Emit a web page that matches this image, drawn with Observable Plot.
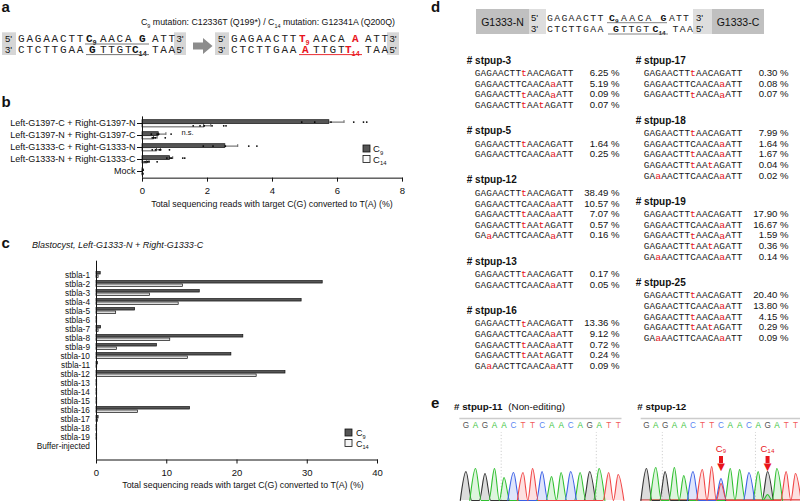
<!DOCTYPE html>
<html><head><meta charset="utf-8">
<script src="https://cdn.jsdelivr.net/npm/d3@7"></script>
<script src="https://cdn.jsdelivr.net/npm/@observablehq/plot@0.6"></script>
<style>
html,body{margin:0;padding:0;background:#fff;}
#fig{position:relative;width:800px;height:501px;overflow:hidden;background:#fff;font-family:'Liberation Sans',Arial,sans-serif;}
#fig > div{position:absolute;}
#fig svg{display:block;overflow:visible;}
</style></head><body><div id="fig"></div><script>
// ---------------- DATA ----------------
// panel b
const bCategories = ["Left-G1397-C + Right-G1397-N","Left-G1397-N + Right-G1397-C","Left-G1333-C + Right-G1333-N","Left-G1333-N + Right-G1333-C","Mock"];
const bC9 = [5.75, 0.50, 2.55, 0.85, 0.02];
const bC14 = [1.90, 0.35, 0.45, 0.15, 0.01];
const bC9Err = [0.45, 0.22, 0.38, 0.08, 0];
const bC14Err = [0.20, 0.10, 0.10, 0.05, 0];
const bC9Reps = [[4.9,5.3,5.8,6.5,6.8,6.9],[0.27,0.45,0.5,0.88],[1.87,2.17,2.55,3.27,3.52],[0.75,0.85,0.9,1.24,1.3],[0,0.02]];
const bC14Reps = [[1.56,1.77,1.9,2.14,2.5,2.57],[0.3,0.35,0.4,0.7],[0.3,0.4,0.52,0.56,0.83],[0.05,0.1,0.15,0.2,0.45],[0,0.01]];
const bTicks = [0,2,4,6,8];
// panel c
const cCategories = ["stbla-1","stbla-2","stbla-3","stbla-4","stbla-5","stbla-6","stbla-7","stbla-8","stbla-9","stbla-10","stbla-11","stbla-12","stbla-13","stbla-14","stbla-15","stbla-16","stbla-17","stbla-18","stbla-19","Buffer-injected"];
const cC9  = [0.6,32.2,14.7,29.2,5.5,0.1,0.65,20.9,8.6,19.2,0.2,26.9,0.1,0.1,0.1,13.3,0.3,0.1,0.1,0];
const cC14 = [0.3,12.3,7.6,11.7,2.8,0.1,0.3,10.5,2.9,13.0,0.1,22.8,0.1,0.1,0.1,5.9,0.2,0.1,0.1,0];
const cTicks = [0,10,20,30,40];
// panel d
const dNames = ["stpup-3","stpup-5","stpup-12","stpup-13","stpup-16","stpup-17","stpup-18","stpup-19","stpup-25"];
const dSeqs = [
  ["GAGAACTTtAACAGATT","GAGAACTTCAACAaATT","GAGAACTTtAACAaATT","GAGAACTTtAAtAGATT"],
  ["GAGAACTTtAACAGATT","GAGAACTTCAACAaATT"],
  ["GAGAACTTtAACAGATT","GAGAACTTCAACAaATT","GAGAACTTtAACAaATT","GAGAACTTtAAtAGATT","GAaAACTTCAACAaATT"],
  ["GAGAACTTtAACAGATT","GAGAACTTCAACAaATT"],
  ["GAGAACTTtAACAGATT","GAGAACTTCAACAaATT","GAGAACTTtAACAaATT","GAGAACTTtAAtAGATT","GAaAACTTCAACAaATT"],
  ["GAGAACTTtAACAGATT","GAGAACTTCAACAaATT","GAGAACTTtAACAaATT"],
  ["GAGAACTTtAACAGATT","GAGAACTTCAACAaATT","GAGAACTTtAACAaATT","GAGAACTTtAAtAGATT","GAaAACTTCAACAaATT"],
  ["GAGAACTTtAACAGATT","GAGAACTTCAACAaATT","GAGAACTTtAACAaATT","GAGAACTTtAAtAGATT","GAaAACTTCAACAaATT"],
  ["GAGAACTTtAACAGATT","GAGAACTTCAACAaATT","GAGAACTTtAACAaATT","GAGAACTTtAAtAGATT","GAaAACTTCAACAaATT"]
];
const dPcts = [
  [6.25,5.19,0.09,0.07],[1.64,0.25],[38.49,10.57,7.07,0.57,0.16],[0.17,0.05],[13.36,9.12,0.72,0.24,0.09],
  [0.30,0.08,0.07],[7.99,1.64,1.67,0.04,0.02],[17.90,16.67,1.59,0.36,0.14],[20.40,13.80,4.15,0.29,0.09]
];
const dLeftColumn = [0,1,2,3,4];
const dRightColumn = [5,6,7,8];
// panel e
const eBases = "GAGAACTTCAACAGATT".split("");
const eLeftHeights  = [29,32,27,32,23,28,28,32,29,24,28,29,28,29,32,28,26];
const eRightHeights = [32,33,29,33,25,29,31,34,22,32,31,28,29,29,32,29,27];
const eRightSecondary = [{i:8,b:"T",h:17},{i:13,b:"A",h:6}];
const eLeftGuides = [4,14];
const eRightGuides = [2,12];
const eRightArrows = [{i:8,label:"C₉"},{i:13,label:"C₁₄"}];

// ---------------- HELPERS ----------------
const SANS = "'Liberation Sans', Arial, Helvetica, sans-serif";
const MONO = "'Liberation Mono', 'Courier New', monospace";
const RED = "#e8141b";
const fig = document.getElementById("fig");
function put(node, x, y){ const d=document.createElement("div"); d.style.left=x+"px"; d.style.top=y+"px"; d.appendChild(node); fig.appendChild(d); }
const baseStyle = {fontFamily:SANS, background:"transparent", color:"#111", overflow:"visible"};

// ---------------- PANEL B ----------------
{
  const rows = bCategories.map((cat,i)=>({cat,c9:bC9[i],c14:bC14[i],hi9:bC9[i]+bC9Err[i],hi14:bC14[i]+bC14Err[i]}));
  const p9 = bCategories.flatMap((cat,i)=>bC9Reps[i].map(v=>({cat,v})));
  const p14 = bCategories.flatMap((cat,i)=>bC14Reps[i].map(v=>({cat,v})));
  const step=12.25, top=6.4, H=105;
  const pl = Plot.plot({
    width:410, height:H, marginLeft:142, marginRight:8, marginTop:top, marginBottom:H-top-step*bCategories.length,
    x:{domain:[0,8]}, y:{domain:bCategories, padding:0},
    style:baseStyle,
    marks:[
      Plot.barX(rows,{y:"cat",x:"c9",fill:"#555555",stroke:"#111",strokeWidth:0.7,insetTop:2.7,insetBottom:5.5}),
      Plot.barX(rows,{y:"cat",x:"c14",fill:"#fafafa",stroke:"#111",strokeWidth:0.7,insetTop:6.7,insetBottom:2.1}),
      Plot.ruleY(rows,{y:"cat",x1:"c9",x2:"hi9",dy:-1.4,stroke:"#111",strokeWidth:0.7}),
      Plot.ruleY(rows,{y:"cat",x1:"c14",x2:"hi14",dy:2.3,stroke:"#111",strokeWidth:0.7}),
      Plot.tickX(rows,{y:"cat",x:"hi9",insetTop:3.2,insetBottom:6.05,stroke:"#111",strokeWidth:0.7}),
      Plot.tickX(rows,{y:"cat",x:"hi14",insetTop:6.9,insetBottom:2.35,stroke:"#111",strokeWidth:0.7}),
      Plot.dot(p9,{x:"v",y:"cat",dy:-1.4,r:0.9,fill:"#000"}),
      Plot.dot(p14,{x:"v",y:"cat",dy:2.3,r:0.9,fill:"#000"}),
      Plot.text(["n.s."],{x:()=>1.2,y:()=>bCategories[1],dy:-2.5,text:d=>d,textAnchor:"start",fontSize:7.5}),
      Plot.frame({anchor:"bottom",stroke:"#111"}),
      Plot.ruleX([0],{stroke:"#111"}),
      Plot.axisX({ticks:bTicks,tickSize:4,fontSize:9.5,label:null}),
      Plot.axisY({tickSize:5,tickPadding:2,fontSize:9,label:null})
    ]
  });
  put(pl,0,110);
}

// ---------------- PANEL C ----------------
{
  const rows = cCategories.map((cat,i)=>({cat,c9:cC9[i],c14:cC14[i]}));
  const step=9.94, top=5.7, H=246;
  const pl = Plot.plot({
    width:400, height:H, marginLeft:96, marginRight:23, marginTop:top, marginBottom:H-top-step*cCategories.length,
    x:{domain:[0,40]}, y:{domain:cCategories, padding:0},
    style:baseStyle,
    marks:[
      Plot.barX(rows,{y:"cat",x:"c9",fill:"#555555",stroke:"#111",strokeWidth:0.7,insetTop:1.6,insetBottom:4.97}),
      Plot.barX(rows,{y:"cat",x:"c14",fill:"#dcdcdc",stroke:"#111",strokeWidth:0.7,insetTop:4.97,insetBottom:1.6}),
      Plot.frame({anchor:"bottom",stroke:"#111"}),
      Plot.ruleX([0],{stroke:"#111"}),
      Plot.axisX({ticks:cTicks,tickSize:4,fontSize:9.5,label:null}),
      Plot.axisY({tickSize:0,tickPadding:6.5,fontSize:8.3,label:null})
    ]
  });
  put(pl,0,255);
}

// ---------------- PANEL D ----------------
function dColumn(groups){
  let u=0; const heads=[], chars=[], pcts=[];
  groups.forEach((g,k)=>{
    if(k>0) u+=2.45;
    heads.push({u,t:"# "+dNames[g]});
    dSeqs[g].forEach((s,r)=>{
      u += r===0 ? 1.2 : 1;
      s.split("").forEach((ch,ci)=>chars.push({u,ci,ch,red:ch!==ch.toUpperCase()}));
      pcts.push({u,t:dPcts[g][r].toFixed(2)+" %"});
    });
  });
  const unit=10.6, pitch=5.82, H=320;
  return Plot.plot({
    width:170, height:H, marginTop:10, marginLeft:22, marginRight:6, marginBottom:H-10-28.8*unit,
    x:{domain:[0,24.4], range:[22,22+24.4*pitch], axis:null},
    y:{domain:[0,28.8], range:[10,10+28.8*unit], axis:null},
    style:baseStyle,
    marks:[
      Plot.text(heads,{x:()=>-1.85,y:"u",text:"t",textAnchor:"start",fontWeight:"bold",fontSize:10,fill:"#111"}),
      Plot.text(chars.filter(d=>!d.red),{x:"ci",y:"u",text:"ch",fontFamily:MONO,fontSize:9.4,fill:"#1a1a1a"}),
      Plot.text(chars.filter(d=>d.red),{x:"ci",y:"u",text:"ch",fontFamily:MONO,fontSize:9.8,fill:RED}),
      Plot.text(pcts,{x:()=>24.4,y:"u",text:"t",textAnchor:"end",fontSize:9.6,fill:"#111"})
    ]
  });
}
put(dColumn(dLeftColumn),455,50);
put(dColumn(dRightColumn),624,50);

// ---------------- PANEL E ----------------
const baseColor = {G:"#333333",A:"#2fbf2f",C:"#3a5fe6",T:"#f04545"};
const baseFill  = {G:"#9a9a9a",A:"#2fbf2f",C:"#3a5fe6",T:"#f04545"};
const letterColor = {G:"#555555",A:"#3cc43c",C:"#5a86f2",T:"#f25a5a"};
function chrom(heights, extra, guides, arrows, cfg){
  const peaks = eBases.map((b,i)=>({i,b,h:heights[i]})).concat(extra);
  const marks = [
    Plot.ruleY([82],{x1:()=>cfg.l0,x2:()=>cfg.l1,stroke:"#cccccc",strokeWidth:1.5}),
    Plot.ruleX(guides,{x:d=>d-0.3,y1:()=>0,y2:()=>68,stroke:"#c4c4c4",strokeDasharray:"1.2,2",strokeWidth:0.8})
  ];
  for(const ch of "GACT"){
    marks.push(Plot.text(eBases.map((b,i)=>({b,i})).filter(d=>d.b===ch),{x:"i",y:()=>75,text:"b",fill:letterColor[ch],fontSize:8.2}));
  }
  if(cfg.redBase) marks.push(Plot.ruleY([0.7],{x1:()=>-0.6,x2:()=>17.5,stroke:"#e03a3a",strokeWidth:1.2}));
  for(const ch of "GACT"){
    const ps = peaks.filter(p=>p.b===ch).sort((a,b)=>a.i-b.i);
    const pts=[];
    ps.forEach((p,k)=>{
      const prev=ps[k-1];
      if(prev && p.i-prev.i<=1.2){ pts.pop(); pts.push({x:(prev.i+p.i)/2,y:0}); }
      else pts.push({x:p.i-0.6,y:0});
      pts.push({x:p.i,y:p.h});
      pts.push({x:p.i+0.6,y:0});
    });
    marks.push(Plot.areaY(pts,{x:"x",y:"y",curve:"monotone-x",fill:baseFill[ch],fillOpacity:ch==="G"?0.35:0.16}));
    marks.push(Plot.line(pts,{x:"x",y:"y",curve:"monotone-x",stroke:baseColor[ch],strokeWidth:1.1}));
  }
  if(arrows.length){
    marks.push(Plot.text(arrows,{x:"i",y:()=>52,text:"label",fill:RED,fontSize:9.5}));
    marks.push(Plot.ruleX(arrows,{x:"i",y1:()=>37,y2:()=>44,stroke:RED,strokeWidth:4}));
    marks.push(Plot.text(arrows,{x:"i",y:()=>34,text:()=>"▼",fill:RED,fontSize:10,fontFamily:"DejaVu Sans"}));
  }
  return Plot.plot({
    width:cfg.w, height:89, marginTop:0, marginBottom:1, marginLeft:cfg.ml, marginRight:cfg.mr,
    x:{domain:[0,16],axis:null}, y:{domain:[0,88],axis:null},
    style:baseStyle, marks
  });
}
put(chrom(eLeftHeights,[],eLeftGuides,[],{w:170,ml:10.5,mr:7.3,l0:-0.65,l1:16.4,redBase:false}),455,412);
put(chrom(eRightHeights,eRightSecondary,eRightGuides,eRightArrows,{w:164,ml:10,mr:5,l0:-0.57,l1:17.5,redBase:true}),636,412);

// ---------------- OVERLAY: labels, schematic, legends ----------------
const ov = d3.select(fig).append("svg").attr("width",800).attr("height",501)
  .attr("style","position:absolute;left:0;top:0;overflow:hidden;pointer-events:none");
function rich(x,y,parts,o={}){
  const fs=o.fs||9;
  const t=ov.append("text").attr("x",x).attr("y",y).attr("font-family",o.ff||SANS).attr("font-size",fs).attr("fill",o.fill||"#111");
  if(o.fw) t.attr("font-weight",o.fw);
  if(o.anchor) t.attr("text-anchor",o.anchor);
  if(o.italic) t.attr("font-style","italic");
  let shift=0;
  for(const p of parts){
    const isSub=Array.isArray(p); const s=isSub?p[0]:p; const target=isSub?fs*0.3:0;
    const sp=t.append("tspan").text(s).attr("dy",target-shift);
    if(isSub) sp.attr("font-size",fs*0.62);
    shift=target;
  }
  return t;
}
function R(x,y,w,h,fill,stroke){ ov.append("rect").attr("x",x).attr("y",y).attr("width",w).attr("height",h).attr("fill",fill).attr("stroke",stroke||"none").attr("stroke-width",0.8); }
function L(x1,y1,x2,y2,stroke,w){ ov.append("line").attr("x1",x1).attr("y1",y1).attr("x2",x2).attr("y2",y2).attr("stroke",stroke).attr("stroke-width",w||1); }

// panel letters
rich(1.5,12,["a"],{fs:15,fw:"bold"});
rich(1.5,106.5,["b"],{fs:15,fw:"bold"});
rich(1.5,247.5,["c"],{fs:15,fw:"bold"});
rich(431,11.7,["d"],{fs:15,fw:"bold"});
rich(431,407.5,["e"],{fs:15,fw:"bold"});

// panel a
rich(141,25.3,["C",["9"]," mutation: C12336T (Q199*) / C",["14"]," mutation: G12341A (Q200Q)"],{fs:8.8});
function seqBox(ox, mutated){
  R(ox,32.3,14,22.7,"#d6d6d6"); R(ox+172,32.3,12,22.7,"#d6d6d6");
  const lab={fs:9.5};
  rich(ox+3,41.8,["5'"],lab); rich(ox+174.5,41.8,["3'"],lab);
  rich(ox+3,52.6,["3'"],lab); rich(ox+174.5,52.6,["5'"],lab);
  const f={ff:MONO,fs:11,fill:"#222"};
  const fb={ff:MONO,fs:11,fill:mutated?RED:"#111",fw:"bold"};
  const p=8.4;
  "GAGAACTT".split("").forEach((c,i)=>rich(ox+16+p*i,41.8,[c],f));
  "CTCTTGAA".split("").forEach((c,i)=>rich(ox+16+p*i,52.6,[c],f));
  rich(ox+84,41.8,[mutated?"T":"C",["9"]],fb);
  "AACA".split("").forEach((c,i)=>rich(ox+98+8.3*i,41.8,[c],f));
  rich(ox+137,41.8,[mutated?"A":"G"],fb);
  "ATT".split("").forEach((c,i)=>rich(ox+150+8.3*i,41.8,[c],f));
  rich(ox+87,52.6,[mutated?"A":"G"],fb);
  "TTGT".split("").forEach((c,i)=>rich(ox+98+8.3*i,52.6,[c],f));
  rich(ox+130,52.6,[mutated?"T":"C",["14"]],fb);
  "TAA".split("").forEach((c,i)=>rich(ox+150+8.3*i,52.6,[c],f));
  if(!mutated) L(ox+83,44,ox+147,44,"#666",0.9);
  L(ox+84,54.6,ox+147,54.6,mutated?RED:"#666",0.9);
}
seqBox(2,false);
seqBox(215,true);
ov.append("polygon").attr("points","193,42.5 203,42.5 203,38 212.5,46 203,54 203,49.5 193,49.5").attr("fill","#8c8c8c");

// panel b legend + axis title
R(363,145,7,7,"#555555","#111"); R(363,155.5,7,7,"#fafafa","#111");
rich(373,152,["C",["9"]],{fs:9.5}); rich(373,162.5,["C",["14"]],{fs:9.5});
rich(272,207,["Total sequencing reads with target C(G) converted to T(A) (%)"],{fs:8.8,anchor:"middle"});

// panel c title, legend, axis title
rich(32,248.3,["Blastocyst, Left-G1333-N + Right-G1333-C"],{fs:9,italic:true});
R(345,429,7,7,"#555555","#111"); R(345,439.5,7,7,"#f5f5f5","#111");
rich(356,436,["C",["9"]],{fs:9}); rich(356,446.5,["C",["14"]],{fs:9});
rich(243,487.5,["Total sequencing reads with target C(G) converted to T(A) (%)"],{fs:8.8,anchor:"middle"});

// panel d header
R(476,9,53,25,"#c0c0c0"); R(529,9,17,25,"#dedede"); R(693,9,19,25,"#dedede"); R(712,9,52,25,"#c0c0c0");
rich(502.5,25.5,["G1333-N"],{fs:10.5,anchor:"middle"});
rich(738,25.5,["G1333-C"],{fs:10.5,anchor:"middle"});
rich(531,20.5,["5'"],{fs:9.5}); rich(531,32,["3'"],{fs:9.5});
rich(696,20.5,["3'"],{fs:9.5}); rich(696,32,["5'"],{fs:9.5});
{
  const f={ff:MONO,fs:9.8,fill:"#222"}, fb={ff:MONO,fs:9.8,fill:"#111",fw:"bold"};
  "GAGAACTT".split("").forEach((c,i)=>rich(547+7.2*i,20.5,[c],f));
  "CTCTTGAA".split("").forEach((c,i)=>rich(547+7.2*i,32,[c],f));
  rich(609,20.5,["C",["9"]],fb);
  "AACA".split("").forEach((c,i)=>rich(621+8.2*i,20.5,[c],f));
  rich(660.5,20.5,["G"],fb);
  "ATT".split("").forEach((c,i)=>rich(669+7*i,20.5,[c],f));
  rich(613,32,["G"],fb);
  "TTGT".split("").forEach((c,i)=>rich(621+7.4*i,32,[c],f));
  rich(652.5,32,["C",["14"]],fb);
  "TAA".split("").forEach((c,i)=>rich(672.5+7.2*i,32,[c],f));
  L(607,22.7,667,22.7,"#777",0.9);
  L(608,34,668,34,"#777",0.9);
}

// panel e titles
rich(454,410,["# stpup-11"],{fs:9.8,fw:"bold"});
rich(508.3,410,["(Non-editing)"],{fs:9.8});
rich(637.3,410,["# stpup-12"],{fs:9.8,fw:"bold"});
</script></body></html>
